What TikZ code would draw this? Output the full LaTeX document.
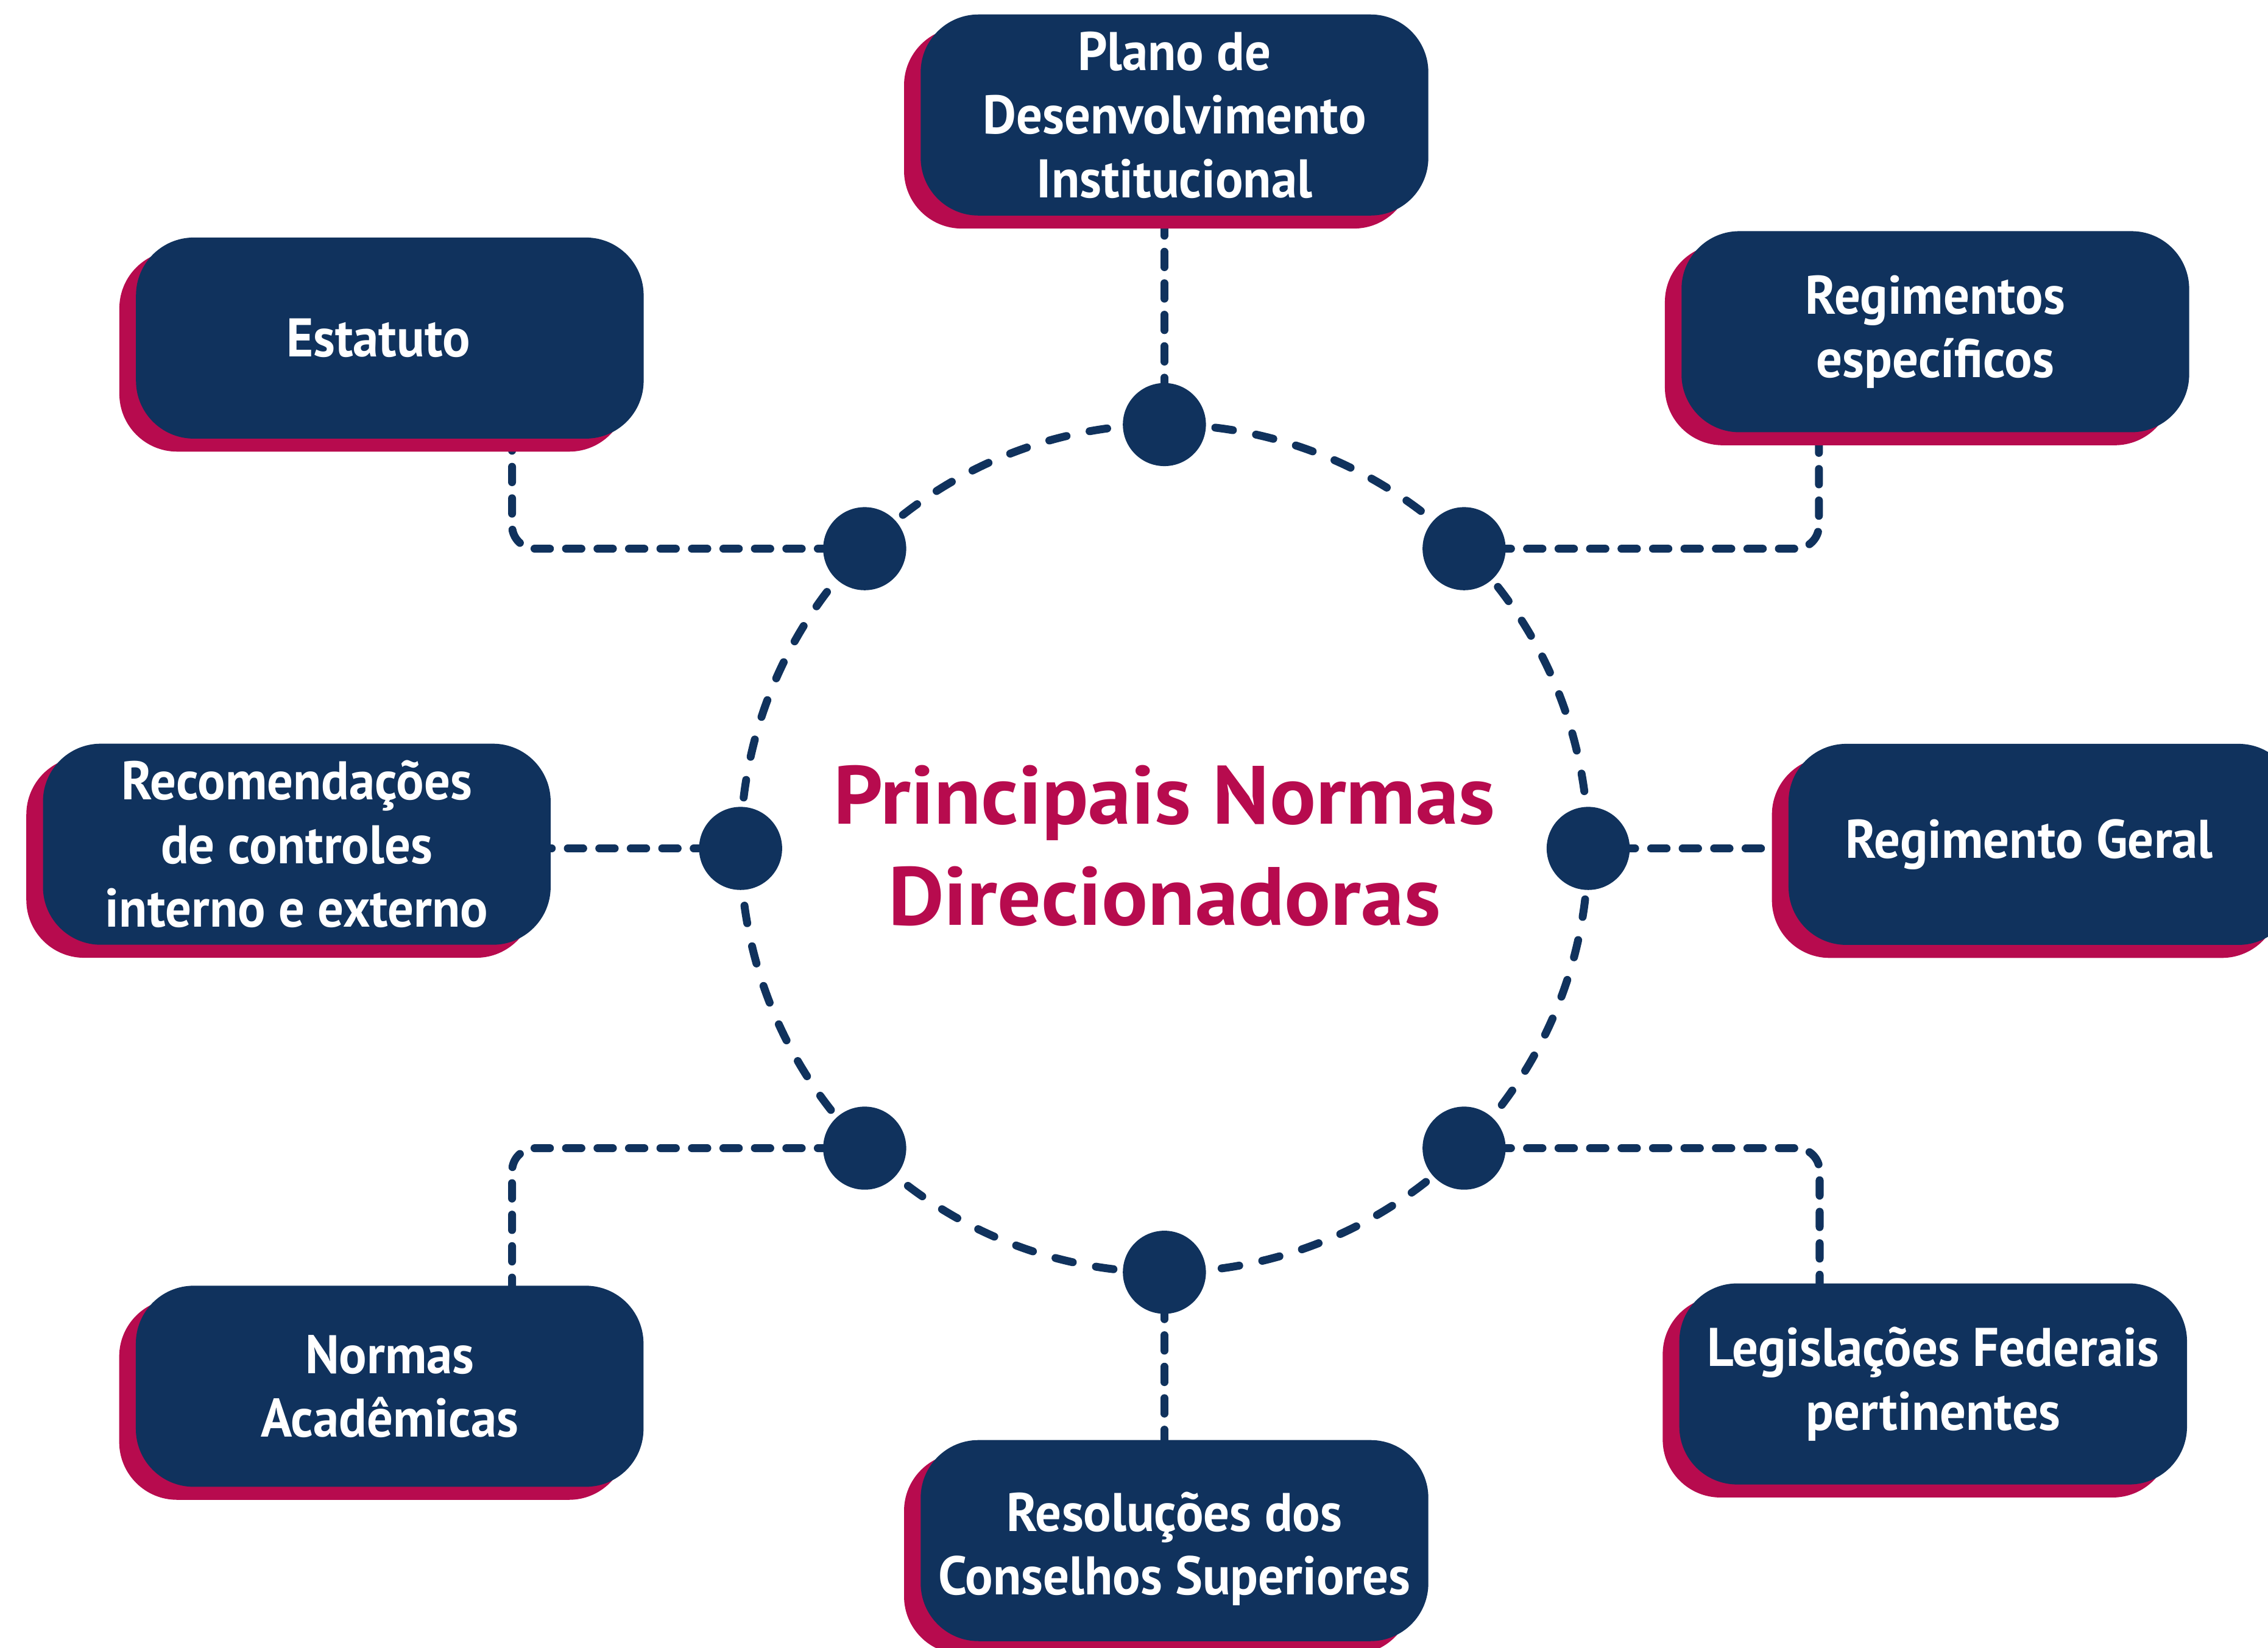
\documentclass[tikz,border=0pt]{standalone}
\usepackage{fontspec}
\setmainfont{PT Sans}
\newfontfamily\boxfont[FakeStretch=0.95]{PT Sans}
\newfontfamily\titlefont[FakeStretch=1.045]{PT Sans}
\usetikzlibrary{shadows,backgrounds}
\definecolor{navy}{HTML}{10325D}
\definecolor{crim}{HTML}{B70B4E}
\begin{document}
\begin{tikzpicture}[x=0.02374cm,y=-0.02374cm,
  box/.style={rectangle, rounded corners=27pt, fill=navy, text=white,
    minimum width=237.1pt, minimum height=93.9pt, inner sep=0pt, align=center,
    font=\boxfont\fontsize{25.4}{29.7}\selectfont\bfseries,
    drop shadow={shadow xshift=-7.77pt, shadow yshift=-6.08pt, fill=crim, opacity=1}},
  dot/.style={circle, fill=navy, minimum size=38.8pt, inner sep=0pt},
  ring/.style={draw=navy, line width=3.7pt, line cap=round, dash pattern=on 8.3pt off 11pt},
  conn/.style={draw=navy, line width=3.7pt, line cap=round, dash pattern=on 7.2pt off 7.5pt, rounded corners=10.8pt},
  title/.style={text=crim, align=center, font=\titlefont\fontsize{38.6}{47.2}\selectfont\bfseries}
]
\useasboundingbox (0,0) rectangle (1568,1139);
\clip (0,0) rectangle (1568,1139);

% dots
\node[dot] (dN)  at (805,293.5) {};
\node[dot] (dNE) at (1012.2,379.3) {};
\node[dot] (dE)  at (1098,586.5) {};
\node[dot] (dSE) at (1012.2,793.7) {};
\node[dot] (dS)  at (805,879.5) {};
\node[dot] (dSW) at (597.8,793.7) {};
\node[dot] (dW)  at (512,586.5) {};
\node[dot] (dNW) at (597.8,379.3) {};

% boxes
\node[box] (pdi) at (812,79.5) {Plano de\\Desenvolvimento\\Institucional};
\node[box] (est) at (269.5,233.7) {Estatuto\kern10.8pt};
\node[box] (reg) at (1338,229.3) {Regimentos\\específicos};
\node[box] (rg)  at (1412,583.7) {Regimento Geral\kern12.2pt};
\node[box] (rec) at (205.2,583.6) {Recomendações\\de controles\\interno e externo};
\node[box] (nor) at (269.4,958.3) {Normas\\Acadêmicas};
\node[box] (res) at (812,1065) {\rule{0pt}{26pt}Resoluções dos\\Conselhos Superiores};
\node[box] (leg) at (1336.5,956.7) {Legislações Federais\\pertinentes};

\node[title] (ttl) at (805,584.5) {Principais Normas\\Direcionadoras};

% anchor points on boxes
\coordinate (ctr)  at (805,586.5);
\coordinate (pdiA) at (805,150);
\coordinate (regA) at (1257.5,300);
\coordinate (rgA)  at (1238,586.5);
\coordinate (legA) at (1258,888);
\coordinate (resA) at (805,997);
\coordinate (norA) at (354,890);
\coordinate (recA) at (378,586.5);
\coordinate (estA) at (354,302);

\begin{pgfonlayer}{background}
  \foreach \a in {0,45,...,315}
    \draw[ring] (ctr) ++(\a+6.9:293) arc[start angle=\a+6.9, delta angle=38.1, radius=293];
  \draw[conn] (dN.center) -- (pdiA);
  \draw[conn] (dNE.center) -| (regA);
  \draw[conn] (dE.center) -- (rgA);
  \draw[conn] (dSE.center) -| (legA);
  \draw[conn] (dS.center) -- (resA);
  \draw[conn] (dSW.center) -| (norA);
  \draw[conn] (dW.center) -- (recA);
  \draw[conn] (dNW.center) -| (estA);
\end{pgfonlayer}
\end{tikzpicture}
\end{document}
